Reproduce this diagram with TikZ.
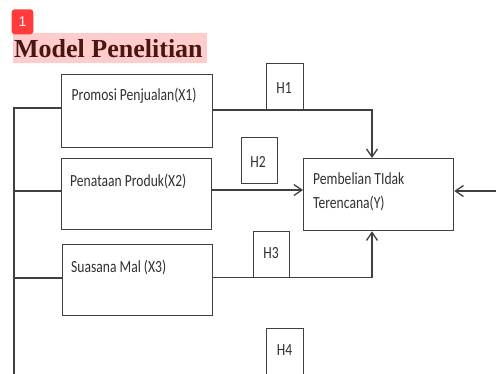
\documentclass[tikz,border=0pt]{standalone}
\usepackage{fontspec}
\usepackage{graphicx}
\usetikzlibrary{arrows.meta}
\newfontfamily\calfont{Carlito}
\newfontfamily\titlefont{Liberation Serif}
\newfontfamily\badgefont{Liberation Sans}
\newcommand{\sqz}[1]{\scalebox{0.8}[1]{#1}}
\definecolor{ln}{HTML}{404040}
\definecolor{tx}{HTML}{303030}
\definecolor{ttl}{HTML}{4A1515}
\definecolor{hl}{HTML}{FFCCCC}
\definecolor{badge}{HTML}{FF3B3B}
\begin{document}
\begin{tikzpicture}[x=1pt,y=-1pt,
  boxx/.style={draw=ln,line width=1.3pt,anchor=north west,inner sep=0pt},
  lbl/.style={anchor=base west,inner sep=0pt,text=tx,font=\calfont\fontsize{17}{20}\selectfont},
  hlbl/.style={inner sep=0pt,text=tx,font=\calfont\fontsize{17}{20}\selectfont},
  conn/.style={draw=ln,line width=1.3pt},
  tip/.style={-{Straight Barb[length=8pt,width=11pt]}}]
\useasboundingbox (0,0) rectangle (496,373);
% title
\fill[hl] (13,33) rectangle (207,63);
\node[anchor=base west,inner sep=0pt,text=ttl,font=\titlefont\bfseries\fontsize{26}{30}\selectfont] (title) at (14,57) {Model Penelitian};
\fill[badge,rounded corners=3pt] (11.7,9.3) rectangle (33.3,34.3);
\node[text=white,font=\badgefont\fontsize{14}{16}\selectfont,inner sep=0pt] (badge) at (22.5,21.8) {1};
% boxes
\node[boxx,minimum width=151pt,minimum height=73pt] (X1) at (61,74) {};
\node[boxx,minimum width=150pt,minimum height=71pt] (X2) at (61,158) {};
\node[boxx,minimum width=150pt,minimum height=71pt] (X3) at (62,244) {};
\node[boxx,minimum width=150pt,minimum height=72pt] (Y) at (303,158) {};
\node[boxx,minimum width=37pt,minimum height=47pt] (H1) at (266,63) {};
\node[boxx,minimum width=36pt,minimum height=46pt] (H2) at (241,137) {};
\node[boxx,minimum width=36pt,minimum height=46pt] (H3) at (253,231) {};
\node[boxx,minimum width=37pt,minimum height=48pt] (H4) at (266,328) {};
% texts
\node[lbl] (tX1) at (71.5,100) {\sqz{Promosi Penjualan(X1)}};
\node[lbl] (tX2) at (70,186) {\sqz{Penataan Produk(X2)}};
\node[lbl] (tX3) at (71,272.5) {\sqz{Suasana Mal (X3)}};
\node[lbl] (tY1) at (313,184) {\sqz{Pembelian TIdak}};
\node[lbl] (tY2) at (313,208) {\sqz{Terencana(Y)}};
\node[hlbl] (tH1) at (284,88) {\sqz{H1}};
\node[hlbl] (tH2) at (258,161.5) {\sqz{H2}};
\node[hlbl] (tH3) at (271,253) {\sqz{H3}};
\node[hlbl] (tH4) at (284.5,350) {\sqz{H4}};
% connectors
\coordinate (l1) at (14,108);
\coordinate (l2) at (14,191);
\coordinate (l3) at (14,278);
\coordinate (lb) at (14,374);
\draw[conn] (X1.west |- l1) -- (l1) -- (lb);
\draw[conn] (X2.west |- l2) -- (l2);
\draw[conn] (X3.west |- l3) -- (l3);
\coordinate (a1) at (372,110);
\draw[conn,tip] (X1.east |- a1) -- (a1) -- (a1 |- Y.north);
\coordinate (a2) at (211,190);
\draw[conn,tip] (a2) -- (a2 -| Y.west);
\coordinate (a3) at (372,277.5);
\draw[conn,tip] (X3.east |- a3) -- (a3) -- (a3 |- Y.south);
\coordinate (rin) at (497,191);
\draw[conn,tip] (rin) -- (rin -| Y.east);
\end{tikzpicture}
\end{document}
